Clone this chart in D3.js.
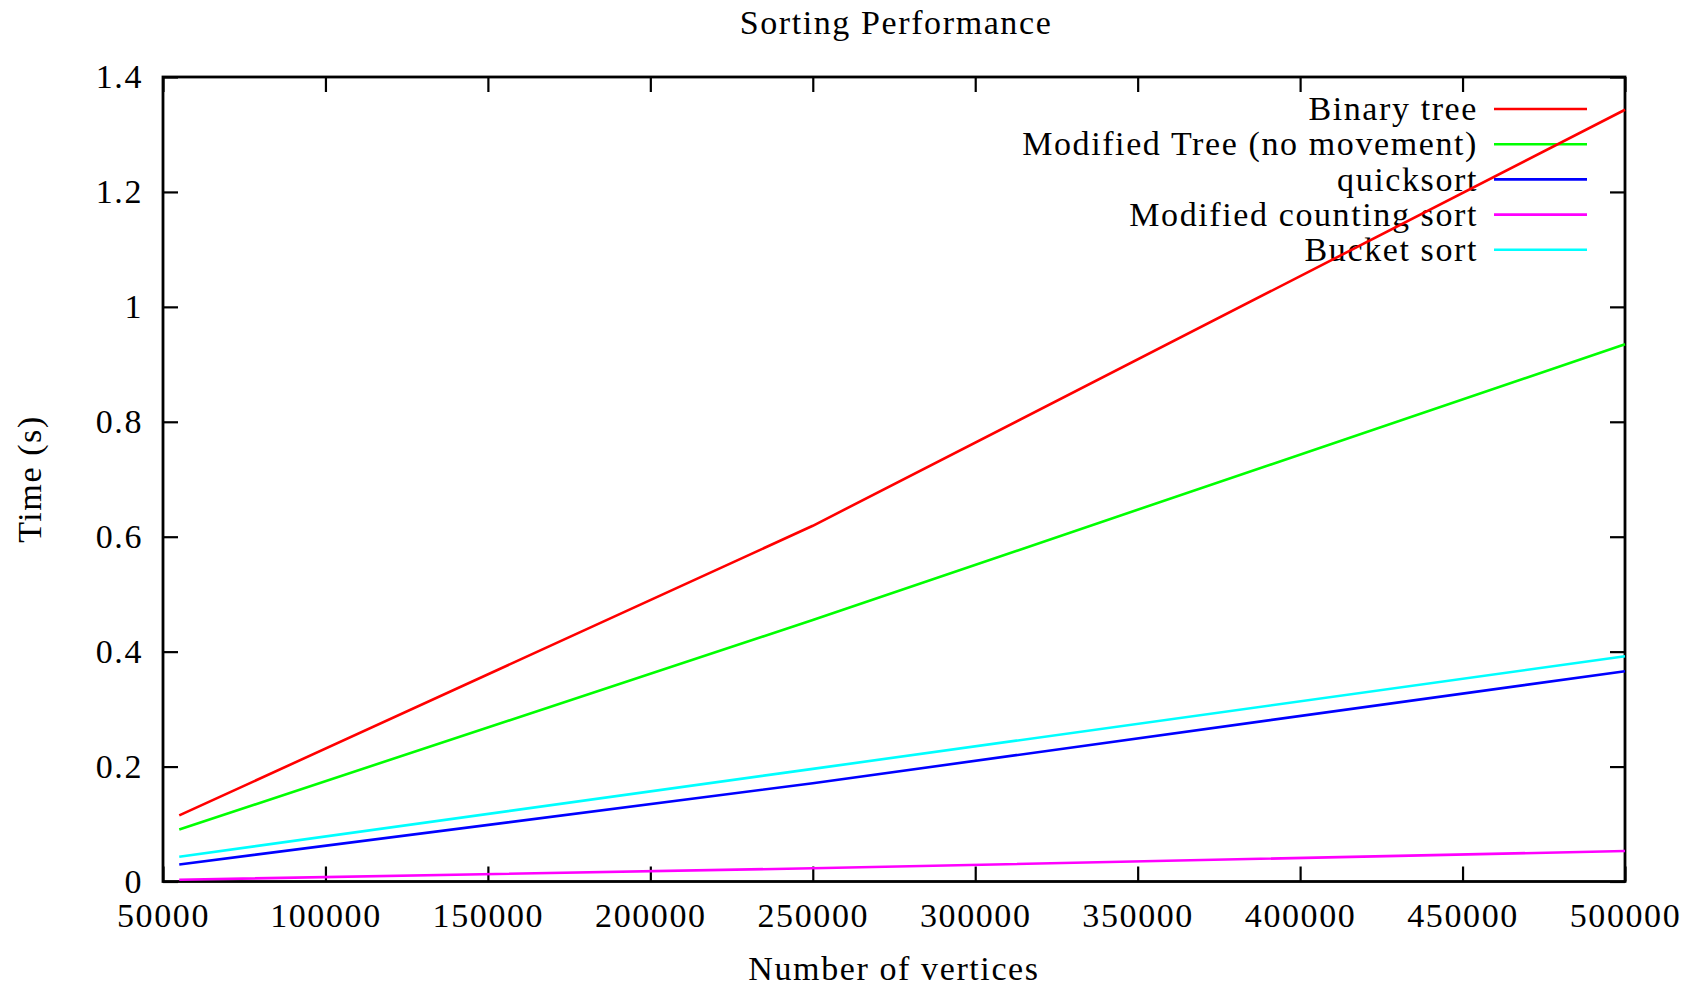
<!DOCTYPE html>
<html>
<head>
<meta charset="utf-8">
<script src="https://cdn.jsdelivr.net/npm/d3@7"></script>
<style>
    body { margin: 0; background: #fff; }
    svg text { font-family: "Liberation Serif", serif; fill: #000; letter-spacing: 1.6px; }
</style>
</head>
<body>
<svg></svg>
<script>
// number of vertices
var vertices = [55000, 250000, 500000];

var binaryTree = [0.115, 0.619, 1.343];
var modifiedTree = [0.0905, 0.455, 0.935];
var quicksort = [0.0296, 0.171, 0.366];
var countingSort = [0.003, 0.023, 0.053];
var bucketSort = [0.043, 0.196, 0.392];

var seriesNames = ["Binary tree", "Modified Tree (no movement)", "quicksort", "Modified counting sort", "Bucket sort"];
var seriesColors = ["#ff0000", "#00ff00", "#0000ff", "#ff00ff", "#00ffff"];
var seriesValues = [binaryTree, modifiedTree, quicksort, countingSort, bucketSort];

var xTicks = [50000, 100000, 150000, 200000, 250000, 300000, 350000, 400000, 450000, 500000];
var yTicks = [0, 0.2, 0.4, 0.6, 0.8, 1, 1.2, 1.4];

var width = 1706;
var height = 986;
var pLeft = 163, pRight = 1625, pTop = 77, pBottom = 881.5;

var svg = d3.select("svg").attr("width", width).attr("height", height);

var x = d3.scaleLinear().domain([50000, 500000]).range([pLeft, pRight]);
var y = d3.scaleLinear().domain([0, 1.4]).range([pBottom, pTop]);

var tickLen = 15;
var fontSize = 34;
var lineW = 2.6;

// axes on all four sides, ticks pointing inward
var axisBottom = svg.append("g")
    .attr("transform", "translate(0," + pBottom + ")")
    .call(d3.axisBottom(x).tickValues(xTicks).tickSize(-tickLen).tickPadding(39).tickFormat(d3.format("d")));
var axisTop = svg.append("g")
    .attr("transform", "translate(0," + pTop + ")")
    .call(d3.axisTop(x).tickValues(xTicks).tickSize(-tickLen).tickFormat(""));
var axisLeft = svg.append("g")
    .attr("transform", "translate(" + pLeft + ",0)")
    .call(d3.axisLeft(y).tickValues(yTicks).tickSize(-tickLen).tickPadding(20).tickFormat(function (d) { return String(+d.toFixed(1)); }));
var axisRight = svg.append("g")
    .attr("transform", "translate(" + pRight + ",0)")
    .call(d3.axisRight(y).tickValues(yTicks).tickSize(-tickLen).tickFormat(""));

[axisBottom, axisTop, axisLeft, axisRight].forEach(function (a) {
    a.select(".domain").remove();
    a.selectAll(".tick line").attr("stroke", "#000").attr("stroke-width", 2.2);
    a.selectAll("text").style("font-size", fontSize + "px").attr("fill", "#000");
});
axisBottom.selectAll("text").attr("dy", "0.2em");

svg.append("rect")
    .attr("x", pLeft).attr("y", pTop)
    .attr("width", pRight - pLeft).attr("height", pBottom - pTop)
    .attr("fill", "none").attr("stroke", "#000").attr("stroke-width", 2.8);

// titles
svg.append("text")
    .attr("x", 896).attr("y", 34)
    .attr("text-anchor", "middle")
    .style("font-size", fontSize + "px")
    .text("Sorting Performance");

svg.append("text")
    .attr("x", 894).attr("y", 980)
    .attr("text-anchor", "middle")
    .style("font-size", fontSize + "px")
    .text("Number of vertices");

svg.append("text")
    .attr("transform", "translate(41,479) rotate(-90)")
    .attr("text-anchor", "middle")
    .style("font-size", fontSize + "px")
    .text("Time (s)");

// legend
var legend = svg.append("g");
seriesNames.forEach(function (name, i) {
    var ly = 109 + i * 35.2;
    legend.append("text")
        .attr("x", 1478).attr("y", ly)
        .attr("dy", "0.33em")
        .attr("text-anchor", "end")
        .style("font-size", fontSize + "px")
        .text(name);
    legend.append("line")
        .attr("x1", 1494).attr("x2", 1587)
        .attr("y1", ly).attr("y2", ly)
        .attr("stroke", seriesColors[i]).attr("stroke-width", lineW);
});

// lines
var line = d3.line()
    .x(function (d, i) { return x(vertices[i]); })
    .y(function (d) { return y(d); });

seriesValues.forEach(function (vals, i) {
    svg.append("path")
        .datum(vals)
        .attr("d", line)
        .attr("fill", "none")
        .attr("stroke", seriesColors[i])
        .attr("stroke-width", lineW);
});
</script>
</body>
</html>
